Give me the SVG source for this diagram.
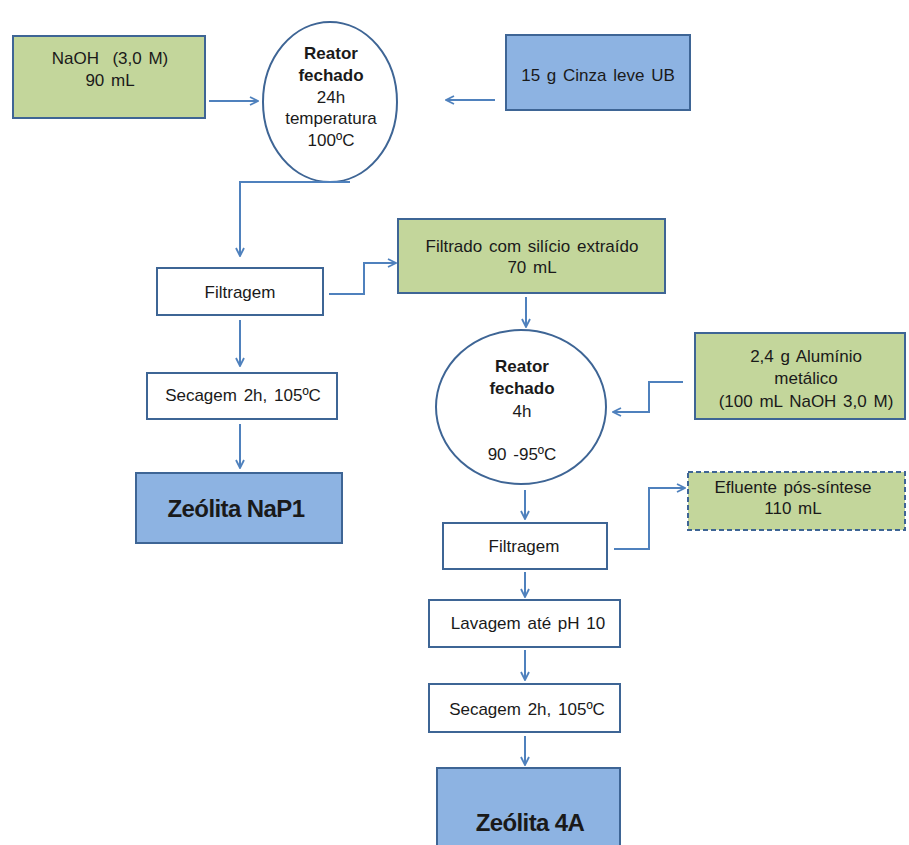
<svg xmlns="http://www.w3.org/2000/svg" width="909" height="845" viewBox="0 0 909 845">
<defs>
<marker id="ah" viewBox="0 0 10 10" refX="9" refY="5" markerWidth="10" markerHeight="10" markerUnits="userSpaceOnUse" orient="auto">
<path d="M1,1 L9,5 L1,9" fill="none" stroke="#4f81bd" stroke-width="1.8"/>
</marker>
</defs>
<style>
text{font-family:"Liberation Sans",Arial,sans-serif;font-size:17px;fill:#1a1a1a;text-anchor:middle;word-spacing:2px}
.b{font-weight:bold}
.big{font-weight:bold;font-size:24px;letter-spacing:-0.6px;word-spacing:0}
.green{fill:#c3d69b;stroke:#3e6595;stroke-width:2}
.blue{fill:#8db3e2;stroke:#3e6595;stroke-width:2}
.white{fill:#ffffff;stroke:#3e6595;stroke-width:2}
.dash{stroke-dasharray:5,3}
.c{fill:none;stroke:#4f81bd;stroke-width:2;marker-end:url(#ah)}
</style>
<rect width="909" height="845" fill="#ffffff"/>
<g id="naoh"><rect class="green" x="13" y="36" width="192" height="82"/><text x="110" y="64">NaOH&#160; (3,0 M)</text><text x="110" y="86">90 mL</text></g>
<g id="reator1"><ellipse class="white" cx="330" cy="102" rx="67" ry="80"/><text class="b" x="331" y="59">Reator</text><text class="b" x="331" y="81">fechado</text><text x="331" y="103">24h</text><text x="331" y="124">temperatura</text><text x="331" y="146">100ºC</text></g>
<g id="cinza"><rect class="blue" x="506" y="35" width="184" height="75"/><text x="598" y="81">15 g Cinza leve UB</text></g>
<g id="filtragem1"><rect class="white" x="157" y="268" width="166" height="47"/><text x="240" y="298">Filtragem</text></g>
<g id="filtrado"><rect class="green" x="398" y="219" width="267" height="74"/><text x="532" y="252">Filtrado com silício extraído</text><text x="532" y="273">70 mL</text></g>
<g id="secagem1"><rect class="white" x="147" y="373" width="190" height="46"/><text x="243" y="401">Secagem 2h, 105ºC</text></g>
<g id="nap1"><rect class="blue" x="136" y="473" width="206" height="70"/><text class="big" x="236" y="517">Zeólita NaP1</text></g>
<g id="reator2"><ellipse class="white" cx="521" cy="407" rx="85" ry="77"/><text class="b" x="522" y="372">Reator</text><text class="b" x="522" y="394">fechado</text><text x="522" y="417">4h</text><text x="522" y="460">90 -95ºC</text></g>
<g id="aluminio"><rect class="green" x="695" y="333" width="210" height="86"/><text x="806" y="362">2,4 g Alumínio</text><text x="806" y="384">metálico</text><text x="806" y="407">(100 mL NaOH 3,0 M)</text></g>
<g id="efluente"><rect class="green dash" x="688" y="472" width="217" height="58"/><text x="793" y="493">Efluente pós-síntese</text><text x="793" y="514">110 mL</text></g>
<g id="filtragem2"><rect class="white" x="443" y="523" width="164" height="46"/><text x="524" y="552">Filtragem</text></g>
<g id="lavagem"><rect class="white" x="429" y="600" width="191" height="47"/><text x="528" y="629">Lavagem até pH 10</text></g>
<g id="secagem2"><rect class="white" x="429" y="684" width="191" height="48"/><text x="527" y="715">Secagem 2h, 105ºC</text></g>
<g id="z4a"><rect class="blue" x="437" y="768" width="183" height="90"/><text class="big" x="530" y="831">Zeólita 4A</text></g>
<g id="connectors">
<path class="c" d="M209,101 H258"/>
<path class="c" d="M495,100 H446"/>
<path class="c" d="M350,182 H240 V256"/>
<path class="c" d="M329,294 H364 V263 H396"/>
<path class="c" d="M240,320 V366"/>
<path class="c" d="M240,424 V468"/>
<path class="c" d="M526,297 V327"/>
<path class="c" d="M683,382 H649 V412 H613"/>
<path class="c" d="M525,490 V519"/>
<path class="c" d="M614,549 H649 V488 H685"/>
<path class="c" d="M525,572 V597"/>
<path class="c" d="M525,650 V680"/>
<path class="c" d="M525,736 V765"/>
</g>
</svg>
